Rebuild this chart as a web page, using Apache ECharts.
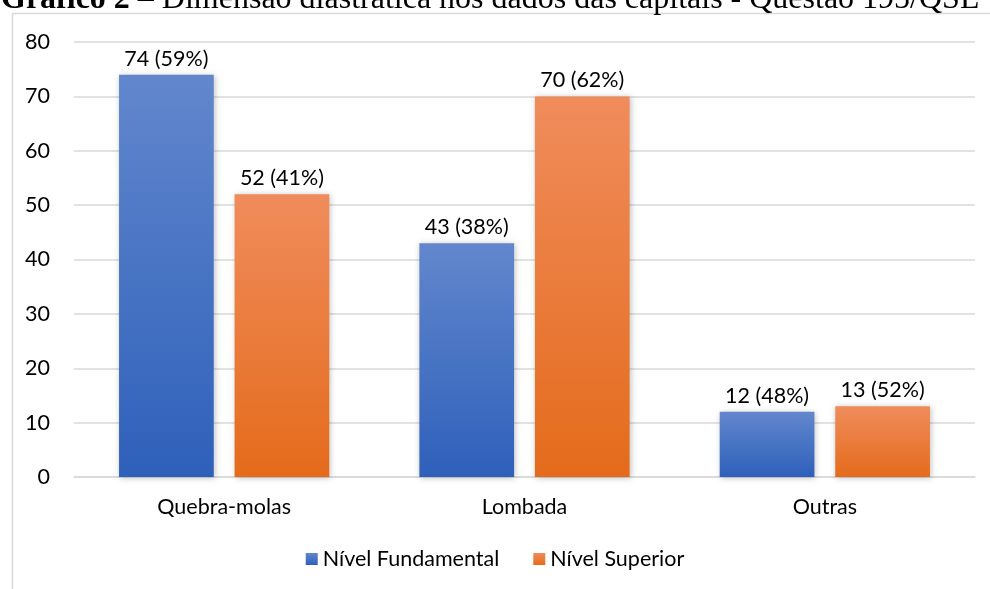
<!DOCTYPE html>
<html><head><meta charset="utf-8">
<script src="https://cdn.jsdelivr.net/npm/echarts@6/dist/echarts.min.js"></script>
<style>html,body{margin:0;padding:0;background:#fff;overflow:hidden}#c{width:990px;height:589px}</style>
</head><body><div id="c"></div>
<script>
const categories = ['Quebra-molas', 'Lombada', 'Outras'];
const fundamental = [74, 43, 12];
const fundamentalPct = [59, 38, 48];
const superior = [52, 70, 13];
const superiorPct = [41, 62, 52];
const yTicks = [0, 10, 20, 30, 40, 50, 60, 70, 80];
const seriesNames = ['Nível Fundamental', 'Nível Superior'];
const titleBold = 'Gráfico 2';
const titleRest = ' – Dimensão diastrática nos dados das capitais - Questão 195/QSL';

const font = 'Lato, "Open Sans", sans-serif';
const fs = 21.5;
const chart = echarts.init(document.getElementById('c'));
function grad(top, bottom) {
  return new echarts.graphic.LinearGradient(0, 0, 0, 1, [{offset: 0, color: top}, {offset: 1, color: bottom}]);
}
function lbl(pcts) {
  return {show: true, position: 'top', distance: 5, color: '#000', fontSize: fs, fontFamily: font,
    formatter: p => p.value + ' (' + pcts[p.dataIndex] + '%)'};
}
chart.setOption({
  animation: false,
  backgroundColor: '#fff',
  graphic: [
    {type: 'rect', shape: {x: 12.5, y: 13.5, width: 1000, height: 600}, style: {fill: 'none', stroke: '#d9d9d9', lineWidth: 1.5}, z: 0},
    {type: 'text', x: 1, y: 16, style: {
      text: '{b|' + titleBold + '}{r|' + titleRest + '}', verticalAlign: 'bottom',
      rich: {b: {fontFamily: '"Liberation Serif", serif', fontWeight: 'bold', fontSize: 32, fill: '#000'},
             r: {fontFamily: '"Liberation Serif", serif', fontSize: 32, fill: '#000'}}
    }, z: 10}
  ],
  grid: {left: 74, right: 15, top: 42, bottom: 112, containLabel: false},
  legend: {
    bottom: 14, left: 'center', itemWidth: 12, itemHeight: 12, itemGap: 34,
    icon: 'rect', textStyle: {fontSize: fs, fontFamily: font, color: '#000'},
    data: seriesNames
  },
  xAxis: {
    type: 'category', data: categories,
    axisLine: {lineStyle: {color: '#d9d9d9', width: 1.5}}, axisTick: {show: false},
    axisLabel: {fontSize: fs, fontFamily: font, color: '#000', margin: 19}
  },
  yAxis: {
    type: 'value', min: yTicks[0], max: yTicks[yTicks.length - 1], interval: 10,
    axisLine: {show: false}, axisTick: {show: false},
    axisLabel: {fontSize: fs, fontFamily: font, color: '#000', margin: 24},
    splitLine: {lineStyle: {color: '#d9d9d9', width: 1.5}}
  },
  series: [
    {name: seriesNames[0], type: 'bar', data: fundamental, barGap: '22%', barCategoryGap: '30%',
      itemStyle: {color: grad('#6287cd', '#2e60ba'), shadowBlur: 6, shadowColor: 'rgba(0,0,0,0.25)', shadowOffsetX: 1, shadowOffsetY: 1},
      label: lbl(fundamentalPct)},
    {name: seriesNames[1], type: 'bar', data: superior,
      itemStyle: {color: grad('#f08c5c', '#e46b1b'), shadowBlur: 6, shadowColor: 'rgba(0,0,0,0.25)', shadowOffsetX: 1, shadowOffsetY: 1},
      label: lbl(superiorPct)}
  ],
  color: ['#4472c4', '#ed7d31']
});
</script></body></html>
